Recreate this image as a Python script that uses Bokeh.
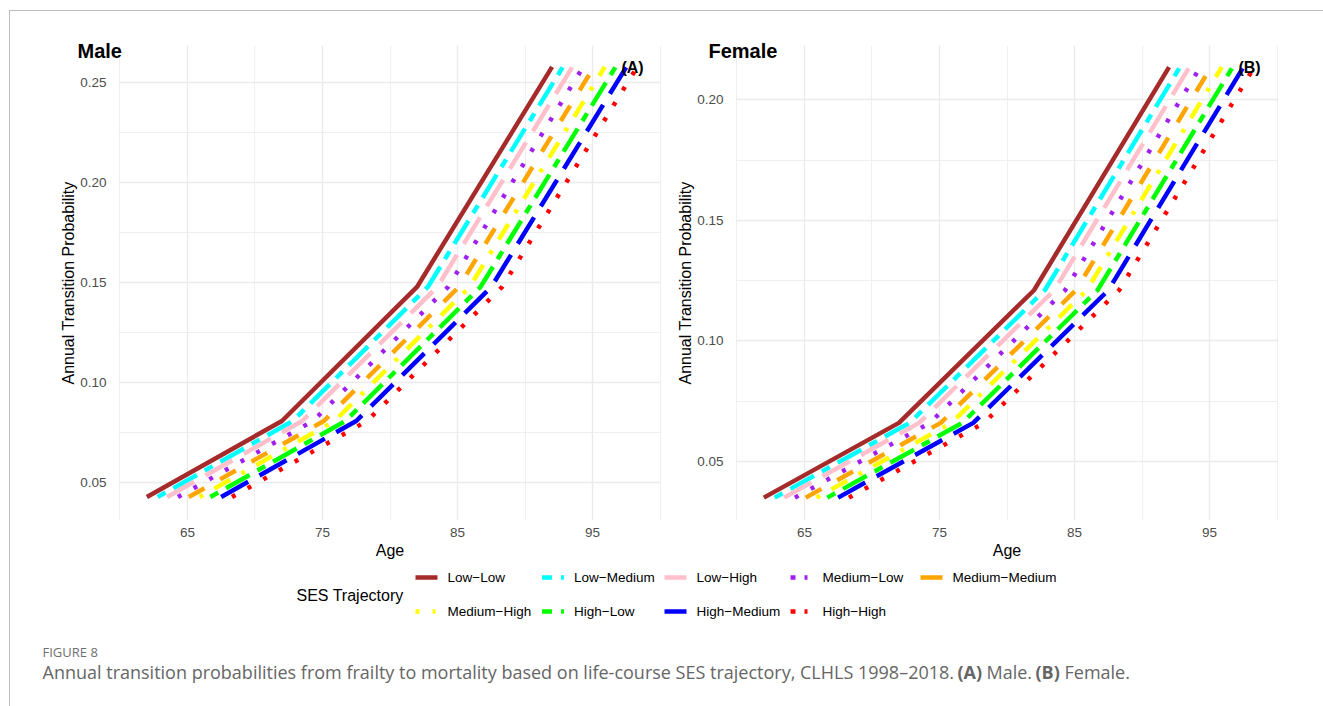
from bokeh.plotting import figure
from bokeh.models import Range1d, FixedTicker, PrintfTickFormatter, Label
from bokeh.layouts import column, row
from bokeh.embed import file_html
from bokeh.resources import INLINE
from bokeh.core.properties import value

# ---------------- data ----------------
series_names = ["Low\u2212Low", "Low\u2212Medium", "Low\u2212High", "Medium\u2212Low", "Medium\u2212Medium",
                "Medium\u2212High", "High\u2212Low", "High\u2212Medium", "High\u2212High"]
series_colors = ["#A52A2A", "#00FFFF", "#FFC0CB", "#A020F0", "#FFA500",
                 "#FFFF00", "#00FF00", "#0000FF", "#FF0000"]

ages_low_low = [62.0, 72.0, 82.0, 92.0]
ages_low_medium = [62.8, 72.8, 82.8, 92.8]
ages_low_high = [63.5, 73.5, 83.5, 93.5]
ages_medium_low = [64.3, 74.3, 84.3, 94.3]
ages_medium_medium = [65.1, 75.1, 85.1, 95.1]
ages_medium_high = [65.9, 75.9, 85.9, 95.9]
ages_high_low = [66.7, 76.7, 86.7, 96.7]
ages_high_medium = [67.5, 77.5, 87.5, 97.5]
ages_high_high = [68.3, 78.3, 88.3, 98.3]
series_ages = [ages_low_low, ages_low_medium, ages_low_high, ages_medium_low, ages_medium_medium,
               ages_medium_high, ages_high_low, ages_high_medium, ages_high_high]

prob_male = [0.043, 0.081, 0.148, 0.258]
prob_female = [0.035, 0.066, 0.121, 0.2135]

x_ticks = [65, 75, 85, 95]
x_minor_ticks = [60, 70, 80, 90, 100]
male_y_ticks = [0.05, 0.10, 0.15, 0.20, 0.25]
male_y_minor = [0.075, 0.125, 0.175, 0.225]
female_y_ticks = [0.05, 0.10, 0.15, 0.20]
female_y_minor = [0.075, 0.125, 0.175]

# ---------------- styles ----------------
series_dash = ["solid", "9 9 27 9", "31 13", "4 14", "18 18", "4 13 18 13", "9 9 27 9", "31 13", "4 14"]
key_dash = ["solid", "10 9 3", "solid", "5 9 3", "solid", "4 13 3", "10 9 3", "solid", "5 9 3"]
FONT = "Liberation Sans"
GRID = "#EBEBEB"
LW = 4.5


def make_panel(prob, y_lo, y_hi, y_ticks, y_minor, width, b_left, b_right, title, title_offset, tag, tag_x, tag_y):
    p = figure(width=width, height=560, x_range=Range1d(59.9, 100.1), y_range=Range1d(y_lo, y_hi),
               output_backend="svg", toolbar_location=None,
               min_border_left=b_left, min_border_right=b_right, min_border_top=34, min_border_bottom=51)
    p.outline_line_color = None
    p.background_fill_color = "white"
    p.border_fill_color = "white"
    for ages, color, dash in zip(series_ages, series_colors, series_dash):
        p.line(ages, prob, line_color=color, line_width=LW, line_dash=dash, line_join="round", line_cap="butt")

    xt = FixedTicker(ticks=x_ticks, minor_ticks=x_minor_ticks)
    yt = FixedTicker(ticks=y_ticks, minor_ticks=y_minor)
    p.xaxis.ticker = xt
    p.yaxis.ticker = yt
    p.xgrid.ticker = xt
    p.ygrid.ticker = yt
    p.yaxis.formatter = PrintfTickFormatter(format="%.2f")
    for g in (p.xgrid, p.ygrid):
        g.grid_line_color = GRID
        g.grid_line_width = 1.4
        g.minor_grid_line_color = GRID
        g.minor_grid_line_width = 0.8
    for ax in (p.xaxis, p.yaxis):
        ax.axis_line_color = None
        ax.major_tick_line_color = None
        ax.minor_tick_line_color = None
        ax.major_tick_out = 0
        ax.major_tick_in = 0
        ax.major_label_text_font = FONT
        ax.major_label_text_font_size = "13.5px"
        ax.major_label_text_color = "#4D4D4D"
        ax.axis_label_text_font = FONT
        ax.axis_label_text_font_size = "16px"
        ax.axis_label_text_font_style = "normal"
        ax.axis_label_text_color = "black"
    p.xaxis.axis_label = "Age"
    p.yaxis.axis_label = "Annual Transition Probability"
    p.xaxis.major_label_standoff = 3
    p.xaxis.axis_label_standoff = 2
    p.yaxis.major_label_standoff = 8
    p.yaxis.axis_label_standoff = 0

    p.title.text = title
    p.title.text_font = FONT
    p.title.text_font_size = "20px"
    p.title.text_font_style = "bold"
    p.title.text_color = "black"
    p.title.align = "left"
    p.title.vertical_align = "bottom"
    p.title.offset = title_offset
    p.title.standoff = -32

    p.add_layout(Label(x=tag_x, y=tag_y, text=tag, text_font=FONT, text_font_size="16px",
                       text_font_style="bold", text_align="center", text_baseline="middle", text_color="black"))
    return p


p1 = make_panel(prob_male, 0.03125, 0.2687, male_y_ticks, male_y_minor, 652, 108, 1,
                "Male", -41, "(A)", 97.96, 0.2575)
p2 = make_panel(prob_female, 0.0255, 0.2225, female_y_ticks, female_y_minor, 661, 73, 45,
                "Female", -27, "(B)", 97.96, 0.2134)

# ---------------- legend + caption strip ----------------
W3, H3 = 1313, 135
p3 = figure(width=W3, height=H3, x_range=Range1d(0, W3), y_range=Range1d(H3, 0),
            output_backend="svg", toolbar_location=None, min_border=0,
            x_axis_location=None, y_axis_location=None)
p3.grid.visible = False
p3.outline_line_color = None
p3.background_fill_color = "white"
p3.border_fill_color = "white"

key_cols = [405, 531.5, 654, 780, 910]
row_y = [6, 40]
for i, (name, color) in enumerate(zip(series_names, series_colors)):
    kx = key_cols[i % 5]
    ky = row_y[i // 5]
    p3.line([kx, kx + 22], [ky, ky], line_color=color, line_width=LW, line_dash=key_dash[i])
    p3.text(x=[kx + 32], y=[ky], text=[name], text_font=value(FONT), text_font_size="13.5px",
            text_baseline="middle", text_align="left", text_color="black")

p3.text(x=[286], y=[24], text=["SES Trajectory"], text_font=value(FONT), text_font_size="16px",
        text_baseline="middle", text_align="left", text_color="black")

CAP = "Open Sans"
CAP_COLOR = "#666666"
p3.text(x=[32], y=[80], text=["FIGURE 8"], text_font=value(CAP), text_font_size="13px",
        text_baseline="middle", text_align="left", text_color="#707070")
cap_pieces = ["Annual transition probabilities from frailty to mortality based on life-course SES trajectory, CLHLS 1998\u20132018.",
              "(A)", "Male.", "(B)", "Female."]
cap_x = [32, 947, 976, 1025, 1054]
cap_bold = [False, True, False, True, False]
for t, x, b in zip(cap_pieces, cap_x, cap_bold):
    p3.text(x=[x], y=[100], text=[t], text_font=value(CAP), text_font_size="18px",
            text_font_style="bold" if b else "normal",
            text_baseline="middle", text_align="left", text_color=CAP_COLOR)

layout = column(row(p1, p2), p3, margin=(10, 0, 0, 9),
                styles={"border-top": "1px solid #bdbdbd", "border-left": "1px solid #bdbdbd"})

open("out.html", "w").write(file_html(layout, INLINE))
